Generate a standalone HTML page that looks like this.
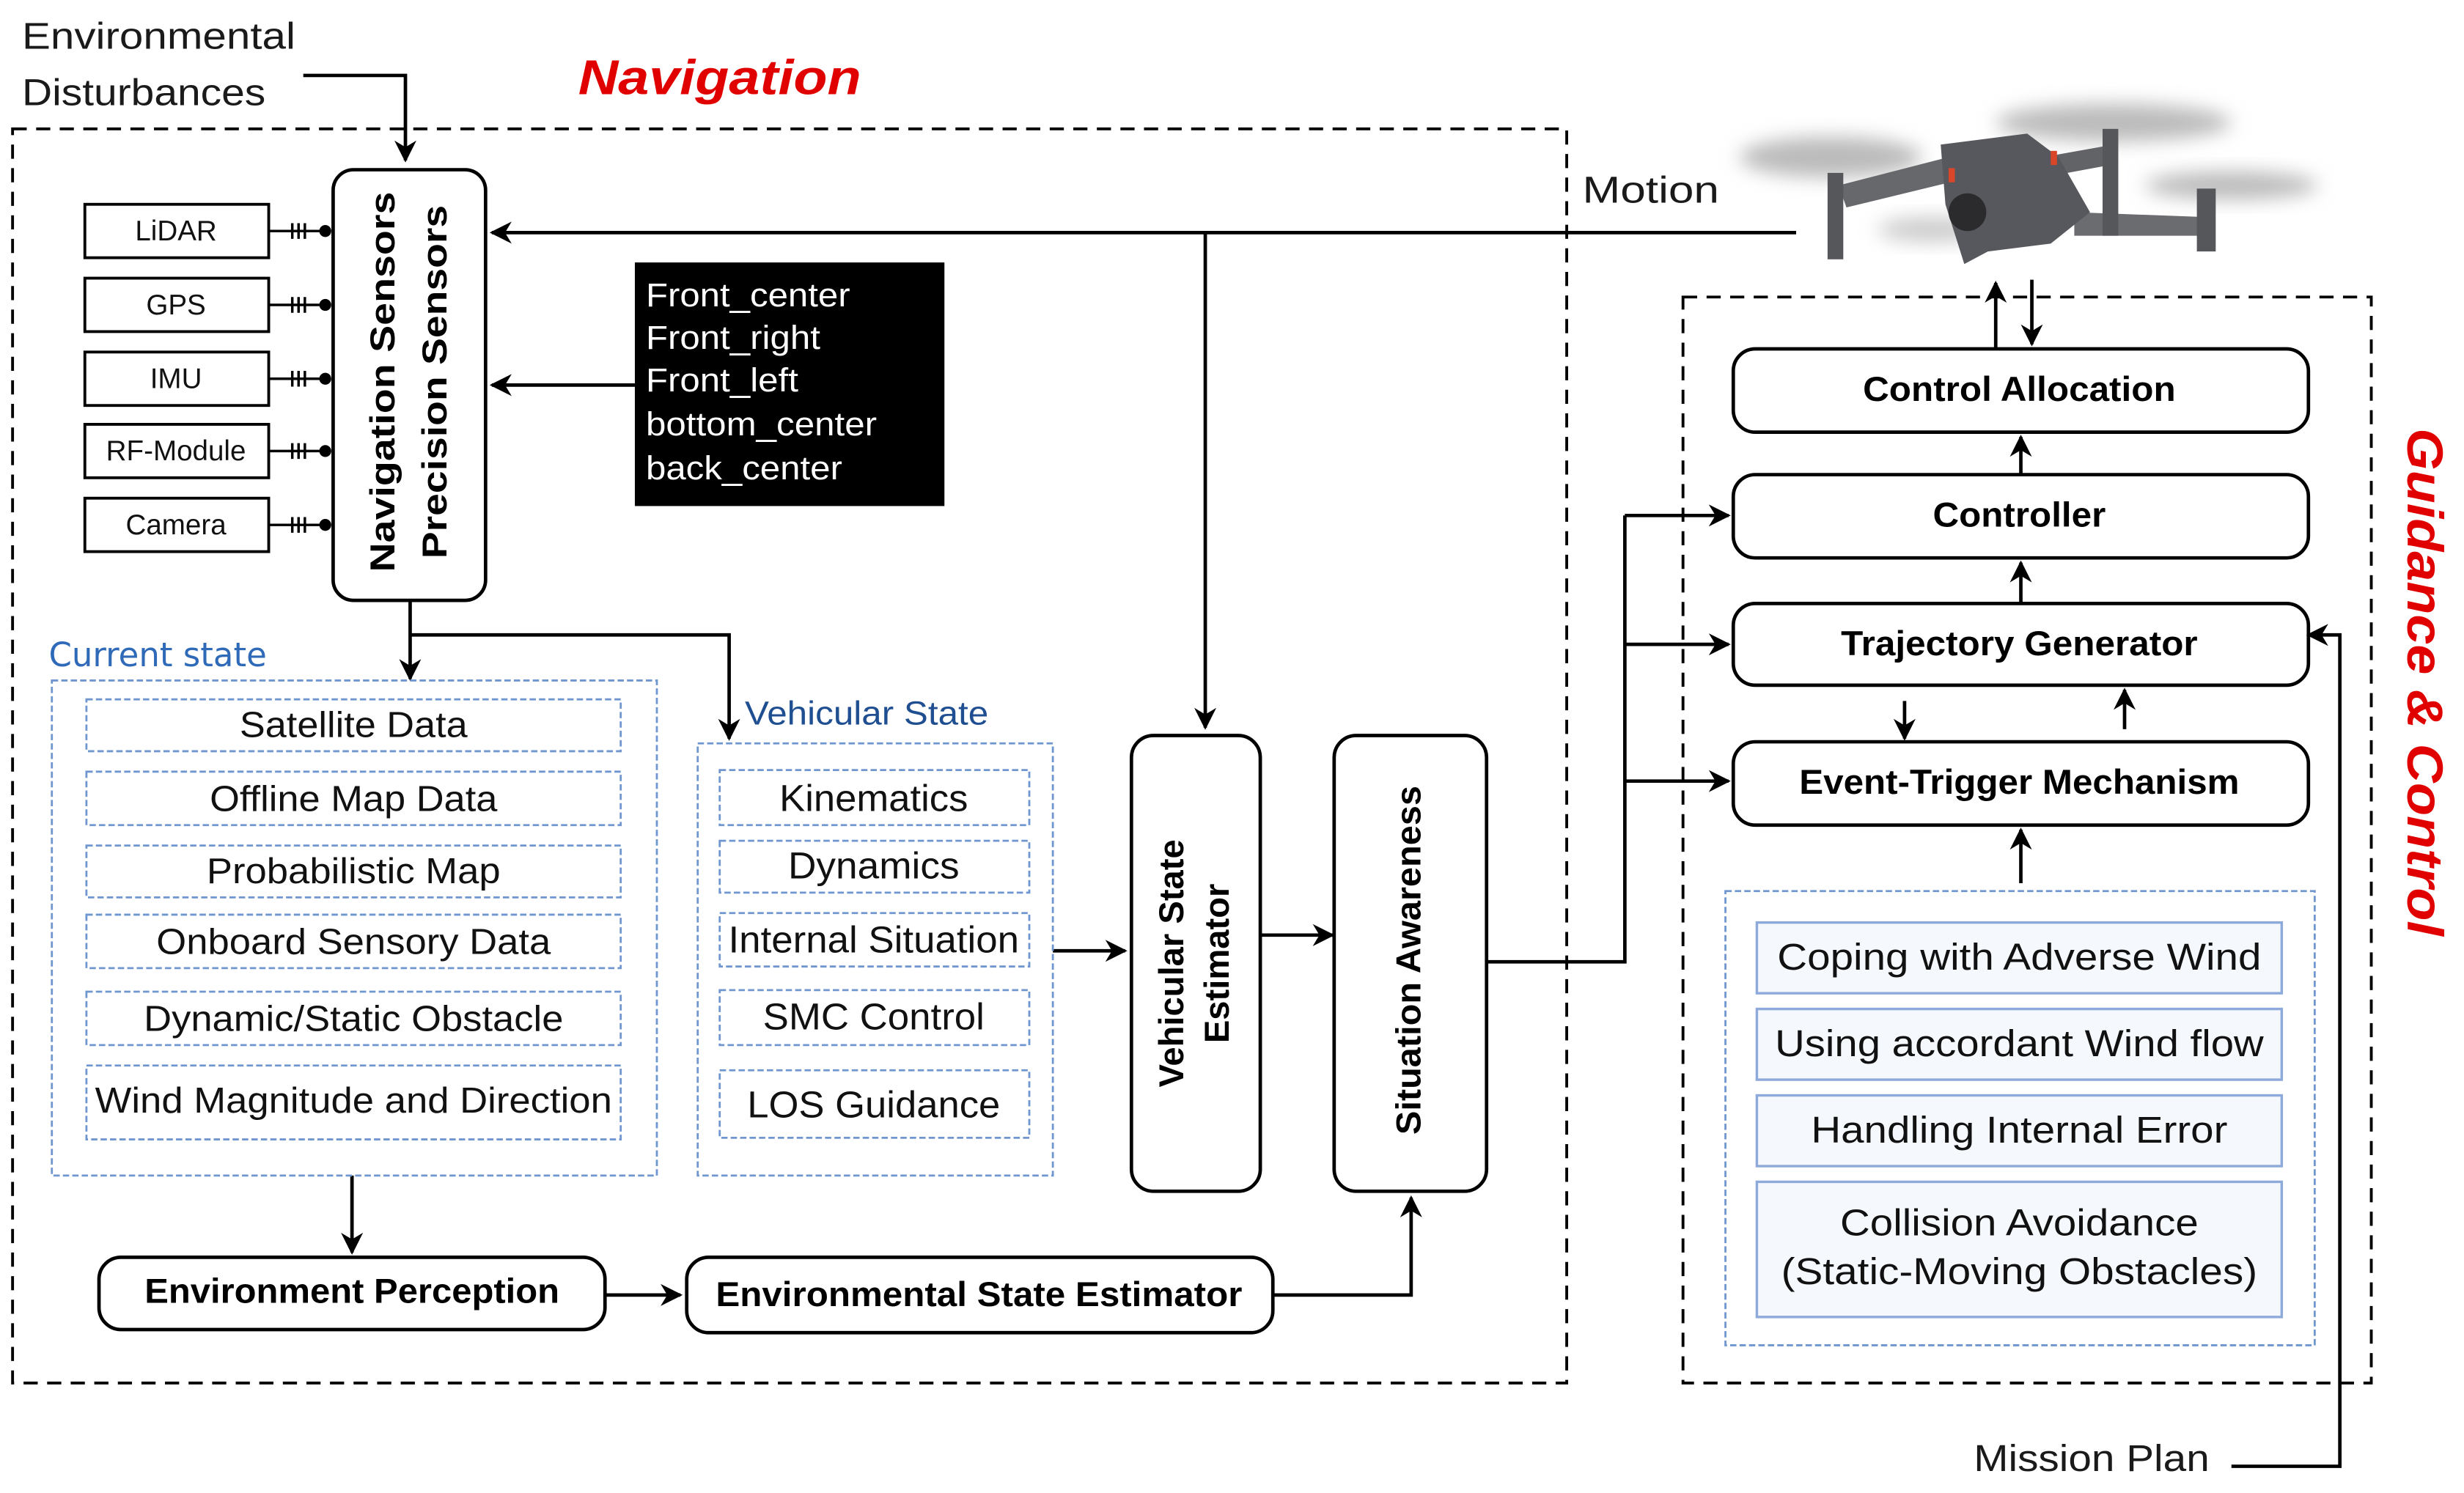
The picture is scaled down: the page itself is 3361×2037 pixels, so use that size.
<!DOCTYPE html>
<html><head><meta charset="utf-8"><style>
html,body{margin:0;padding:0;background:#fff;}
svg{display:block;}
text{font-family:"Liberation Sans",sans-serif;}
.b{font-weight:bold;}
.d{font-family:"DejaVu Sans","Liberation Sans",sans-serif;}
</style></head><body>
<svg width="3361" height="2037" viewBox="0 0 1568 950" preserveAspectRatio="none" xmlns="http://www.w3.org/2000/svg">
<defs>
<marker id="A" viewBox="0 0 10 10" refX="9" refY="5" markerWidth="14" markerHeight="14" orient="auto" markerUnits="userSpaceOnUse"><path d="M0,0L10,5L0,10L3,5z" fill="#000"/></marker>
<filter id="bl" x="-50%" y="-50%" width="200%" height="200%"><feGaussianBlur stdDeviation="6"/></filter>
</defs>
<g fill="none" stroke="#000" stroke-width="2.2">
<rect x="8" y="82" width="989" height="798" stroke-dasharray="9,6" stroke-width="1.8"/>
<rect x="1071" y="189" width="438" height="691" stroke-dasharray="9,6" stroke-width="1.8"/>
<path d="M193,48H258V102" marker-end="url(#A)"/>
<rect x="54" y="130" width="117" height="34" stroke-width="1.8"/>
<rect x="54" y="177" width="117" height="34" stroke-width="1.8"/>
<rect x="54" y="224" width="117" height="34" stroke-width="1.8"/>
<rect x="54" y="270" width="117" height="34" stroke-width="1.8"/>
<rect x="54" y="317" width="117" height="34" stroke-width="1.8"/>
<rect x="212" y="108" width="97" height="274" rx="13"/>
<path d="M1143,148H313" marker-end="url(#A)"/>
<path d="M767,148V463" marker-end="url(#A)"/>
<path d="M404,245H313" marker-end="url(#A)"/>
<path d="M261,382V432" marker-end="url(#A)"/>
<path d="M261,404H464V470" marker-end="url(#A)"/>
<path d="M670,605H716" marker-end="url(#A)"/>
<rect x="720" y="468" width="82" height="290" rx="14"/>
<path d="M802,595H848" marker-end="url(#A)"/>
<rect x="849" y="468" width="97" height="290" rx="14"/>
<path d="M946,612H1034V328" />
<path d="M1034,328H1100" marker-end="url(#A)"/>
<path d="M1034,410H1100" marker-end="url(#A)"/>
<path d="M1034,497H1100" marker-end="url(#A)"/>
<path d="M224,748V797" marker-end="url(#A)"/>
<rect x="63" y="800" width="322" height="46" rx="14"/>
<path d="M385,824H433" marker-end="url(#A)"/>
<rect x="437" y="800" width="373" height="48" rx="14"/>
<path d="M810,824H898V762" marker-end="url(#A)"/>
<rect x="1103" y="222" width="366" height="53" rx="14"/>
<rect x="1103" y="302" width="366" height="53" rx="14"/>
<rect x="1103" y="384" width="366" height="52" rx="14"/>
<rect x="1103" y="472" width="366" height="53" rx="14"/>
<path d="M1270,222V180" marker-end="url(#A)"/>
<path d="M1293,178V219" marker-end="url(#A)"/>
<path d="M1286,302V278" marker-end="url(#A)"/>
<path d="M1286,384V358" marker-end="url(#A)"/>
<path d="M1212,446V470" marker-end="url(#A)"/>
<path d="M1352,464V439" marker-end="url(#A)"/>
<path d="M1286,562V528" marker-end="url(#A)"/>
<path d="M1420,933H1489V404H1469" marker-end="url(#A)"/>
</g>
<g stroke="#000" stroke-width="1.6" fill="#000">
<g id="c"><path d="M171,147H210"/><path d="M186,142V152M190,142V152M194,142V152"/><circle cx="207" cy="147" r="3"/></g>
<use href="#c" y="47"/><use href="#c" y="94"/><use href="#c" y="140"/><use href="#c" y="187"/>
</g>
<g fill="none" stroke="#6f96cf" stroke-width="1.3" stroke-dasharray="4,2">
<rect x="33" y="433" width="385" height="315"/>
<rect x="55" y="445" width="340" height="33"/>
<rect x="55" y="491" width="340" height="34"/>
<rect x="55" y="538" width="340" height="33"/>
<rect x="55" y="582" width="340" height="34"/>
<rect x="55" y="631" width="340" height="34"/>
<rect x="55" y="678" width="340" height="47"/>
<rect x="444" y="473" width="226" height="275"/>
<rect x="458" y="490" width="197" height="35"/>
<rect x="458" y="535" width="197" height="33"/>
<rect x="458" y="581" width="197" height="34"/>
<rect x="458" y="630" width="197" height="35"/>
<rect x="458" y="681" width="197" height="43"/>
<rect x="1098" y="567" width="375" height="289"/>
</g>
<g fill="#f5f8fc" stroke="#8eaadb" stroke-width="1.6">
<rect x="1118" y="587" width="334" height="45"/>
<rect x="1118" y="642" width="334" height="45"/>
<rect x="1118" y="697" width="334" height="45"/>
<rect x="1118" y="752" width="334" height="86"/>
</g>
<rect x="404" y="167" width="197" height="155" fill="#000"/>
<g>
<ellipse cx="1165" cy="100" rx="58" ry="13" fill="#bbb" filter="url(#bl)"/>
<ellipse cx="1345" cy="78" rx="75" ry="12" fill="#bbb" filter="url(#bl)"/>
<ellipse cx="1420" cy="118" rx="55" ry="9" fill="#bbb" filter="url(#bl)"/>
<ellipse cx="1230" cy="146" rx="35" ry="8" fill="#ccc" filter="url(#bl)"/>
<path d="M1170,118L1240,100L1245,115L1175,132Z" fill="#66686c"/>
<path d="M1300,100L1345,92L1348,104L1305,112Z" fill="#616367"/>
<path d="M1320,135L1400,138L1400,150L1320,150Z" fill="#6a6c70"/>
<rect x="1163" y="110" width="10" height="55" fill="#55575b"/>
<rect x="1338" y="82" width="10" height="68" fill="#55575b"/>
<rect x="1398" y="120" width="12" height="40" fill="#55575b"/>
<path d="M1235,92L1290,85L1310,100L1330,135L1305,155L1265,160L1250,168L1238,130Z" fill="#56585d"/>
<circle cx="1252" cy="135" r="12" fill="#2b2b2e"/>
<rect x="1240" y="107" width="4" height="9" fill="#d9462a"/>
<rect x="1305" y="96" width="4" height="9" fill="#d9462a"/>
</g>
<g font-size="24" fill="#1a1a1a" lengthAdjust="spacingAndGlyphs">
<text x="14" y="31" textLength="174" lengthAdjust="spacingAndGlyphs">Environmental</text>
<text x="14" y="67" textLength="155" lengthAdjust="spacingAndGlyphs">Disturbances</text>
<text x="1007" y="129" textLength="87" lengthAdjust="spacingAndGlyphs">Motion</text>
<text x="1256" y="936" textLength="150" lengthAdjust="spacingAndGlyphs">Mission Plan</text>
</g>
<text x="368" y="60" font-size="31" font-weight="bold" font-style="italic" fill="#e00000" textLength="180" lengthAdjust="spacingAndGlyphs">Navigation</text>
<text transform="translate(1532,434) rotate(90)" text-anchor="middle" font-size="32" font-weight="bold" font-style="italic" fill="#e00000" textLength="323" lengthAdjust="spacingAndGlyphs">Guidance &amp; Control</text>
<g font-size="18" text-anchor="middle" fill="#111">
<text x="112" y="153">LiDAR</text>
<text x="112" y="200">GPS</text>
<text x="112" y="247">IMU</text>
<text x="112" y="293">RF-Module</text>
<text x="112" y="340">Camera</text>
</g>
<g font-size="22" class="b" text-anchor="middle" fill="#000">
<text transform="translate(251,243) rotate(-90)" textLength="242" lengthAdjust="spacingAndGlyphs">Navigation  Sensors</text>
<text transform="translate(284,243) rotate(-90)" textLength="225" lengthAdjust="spacingAndGlyphs">Precision  Sensors</text>
<text transform="translate(753,613) rotate(-90)">Vehicular State</text>
<text transform="translate(782,613) rotate(-90)">Estimator</text>
<text transform="translate(904,611) rotate(-90)" textLength="222" lengthAdjust="spacingAndGlyphs">Situation  Awareness</text>
</g>
<g font-size="21" fill="#fff">
<text x="411" y="195" textLength="130" lengthAdjust="spacingAndGlyphs">Front_center</text>
<text x="411" y="222" textLength="111" lengthAdjust="spacingAndGlyphs">Front_right</text>
<text x="411" y="249" textLength="97" lengthAdjust="spacingAndGlyphs">Front_left</text>
<text x="411" y="277" textLength="147" lengthAdjust="spacingAndGlyphs">bottom_center</text>
<text x="411" y="305" textLength="125" lengthAdjust="spacingAndGlyphs">back_center</text>
</g>
<text x="31" y="424" font-size="21" fill="#2e6ab8" class="d">Current state</text>
<text x="474" y="461" font-size="21" fill="#1f4e91" textLength="155" lengthAdjust="spacingAndGlyphs">Vehicular State</text>
<g font-size="23" text-anchor="middle" fill="#111" class="d">
<text x="225" y="469" textLength="145" lengthAdjust="spacingAndGlyphs">Satellite Data</text>
<text x="225" y="516" textLength="183" lengthAdjust="spacingAndGlyphs">Offline Map Data</text>
<text x="225" y="562" textLength="187" lengthAdjust="spacingAndGlyphs">Probabilistic Map</text>
<text x="225" y="607" textLength="251" lengthAdjust="spacingAndGlyphs">Onboard Sensory Data</text>
<text x="225" y="656" textLength="267" lengthAdjust="spacingAndGlyphs">Dynamic/Static Obstacle</text>
<text x="225" y="708" textLength="329" lengthAdjust="spacingAndGlyphs">Wind Magnitude and Direction</text>
</g>
<g font-size="24" text-anchor="middle" fill="#111">
<text x="556" y="516" textLength="120" lengthAdjust="spacingAndGlyphs">Kinematics</text>
<text x="556" y="559" textLength="109" lengthAdjust="spacingAndGlyphs">Dynamics</text>
<text x="556" y="606" textLength="185" lengthAdjust="spacingAndGlyphs">Internal Situation</text>
<text x="556" y="655" textLength="141" lengthAdjust="spacingAndGlyphs">SMC Control</text>
<text x="556" y="711" textLength="161" lengthAdjust="spacingAndGlyphs">LOS Guidance</text>
<text x="1285" y="617" textLength="308" lengthAdjust="spacingAndGlyphs">Coping with Adverse Wind</text>
<text x="1285" y="672" textLength="311" lengthAdjust="spacingAndGlyphs">Using accordant Wind flow</text>
<text x="1285" y="727" textLength="265" lengthAdjust="spacingAndGlyphs">Handling Internal Error</text>
<text x="1285" y="786" textLength="228" lengthAdjust="spacingAndGlyphs">Collision Avoidance</text>
<text x="1285" y="817" textLength="303" lengthAdjust="spacingAndGlyphs">(Static-Moving Obstacles)</text>
</g>
<g font-size="22" class="b" text-anchor="middle" fill="#000">
<text x="224" y="829" textLength="264" lengthAdjust="spacingAndGlyphs">Environment Perception</text>
<text x="623" y="831" textLength="335" lengthAdjust="spacingAndGlyphs">Environmental State Estimator</text>
<text x="1285" y="255" textLength="199" lengthAdjust="spacingAndGlyphs">Control Allocation</text>
<text x="1285" y="335" textLength="110" lengthAdjust="spacingAndGlyphs">Controller</text>
<text x="1285" y="417" textLength="227" lengthAdjust="spacingAndGlyphs">Trajectory Generator</text>
<text x="1285" y="505" textLength="280" lengthAdjust="spacingAndGlyphs">Event-Trigger Mechanism</text>
</g>
</svg>
</body></html>
